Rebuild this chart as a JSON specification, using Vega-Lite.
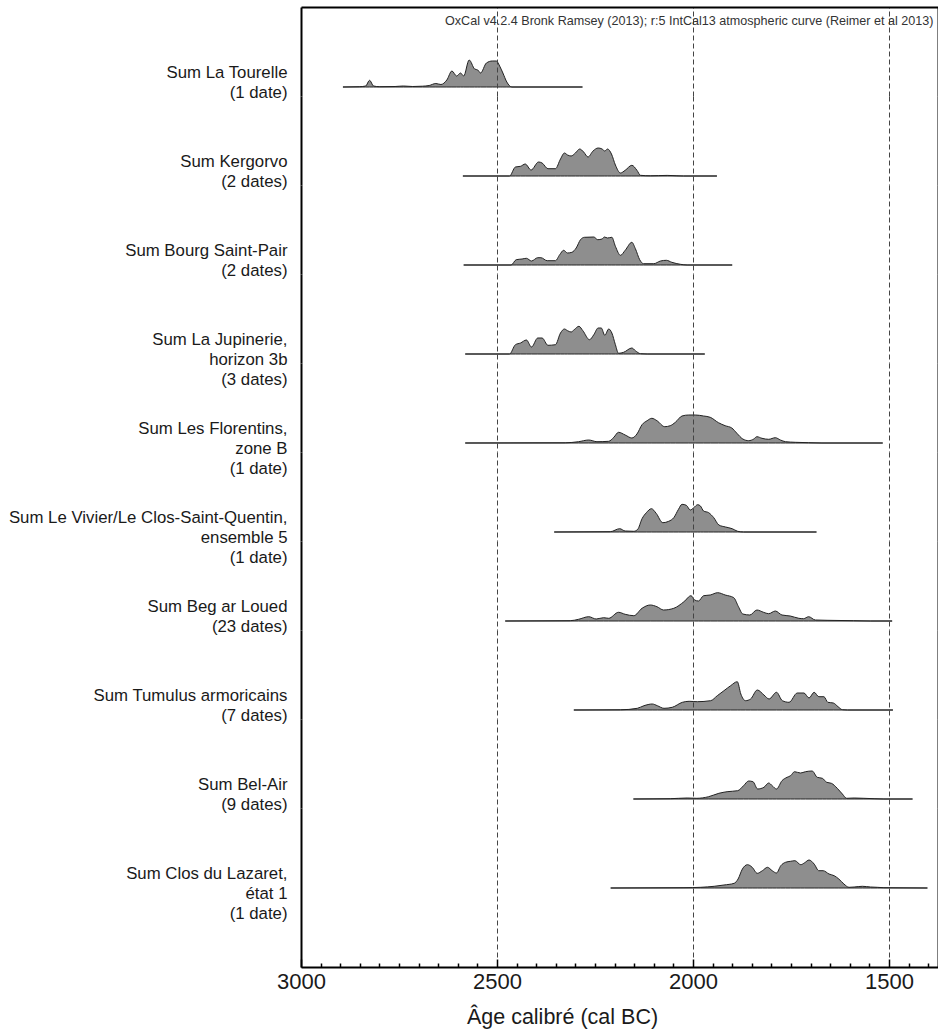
{
  "$schema": "https://vega.github.io/schema/vega-lite/v6.json",
  "background": "white",
  "padding": {"left": 8, "top": 7, "right": 0, "bottom": 5},
  "autosize": {"type": "pad"},
  "bounds": "flush",
  "spacing": 0,
  "config": {
    "view": {"stroke": null},
    "font": "Liberation Sans",
    "axis": {"labelFont": "Liberation Sans", "titleFont": "Liberation Sans"}
  },
  "data": {"values": [
    {"s":1,"year":2893,"p":0},{"s":1,"year":2850,"p":0.3},{"s":1,"year":2835,"p":1},{"s":1,"year":2825,"p":6.7},{"s":1,"year":2815,"p":1},{"s":1,"year":2799,"p":0.3},{"s":1,"year":2760,"p":0.5},{"s":1,"year":2739,"p":1},{"s":1,"year":2715,"p":0.5},{"s":1,"year":2690,"p":0.8},{"s":1,"year":2673,"p":1.5},{"s":1,"year":2656,"p":3.5},{"s":1,"year":2643,"p":2.5},{"s":1,"year":2628,"p":7},{"s":1,"year":2615,"p":16},{"s":1,"year":2603,"p":11},{"s":1,"year":2593,"p":14},{"s":1,"year":2585,"p":11},{"s":1,"year":2571,"p":27},{"s":1,"year":2557,"p":18},{"s":1,"year":2549,"p":17},{"s":1,"year":2542,"p":14},{"s":1,"year":2527,"p":24},{"s":1,"year":2512,"p":26},{"s":1,"year":2502,"p":26},{"s":1,"year":2492,"p":20},{"s":1,"year":2485,"p":14},{"s":1,"year":2475,"p":5},{"s":1,"year":2462,"p":0},{"s":1,"year":2282,"p":0},
    {"s":2,"year":2587,"p":0},{"s":2,"year":2468,"p":0},{"s":2,"year":2453,"p":9},{"s":2,"year":2440,"p":9.7},{"s":2,"year":2428,"p":12},{"s":2,"year":2413,"p":6},{"s":2,"year":2394,"p":14},{"s":2,"year":2385,"p":13},{"s":2,"year":2370,"p":7.3},{"s":2,"year":2351,"p":7.3},{"s":2,"year":2338,"p":17},{"s":2,"year":2328,"p":23},{"s":2,"year":2320,"p":21},{"s":2,"year":2311,"p":20},{"s":2,"year":2300,"p":23},{"s":2,"year":2289,"p":27},{"s":2,"year":2279,"p":24},{"s":2,"year":2268,"p":19},{"s":2,"year":2255,"p":25},{"s":2,"year":2242,"p":28},{"s":2,"year":2232,"p":27},{"s":2,"year":2225,"p":25},{"s":2,"year":2218,"p":27},{"s":2,"year":2208,"p":22},{"s":2,"year":2198,"p":11},{"s":2,"year":2185,"p":3},{"s":2,"year":2173,"p":5.7},{"s":2,"year":2156,"p":10.7},{"s":2,"year":2143,"p":5.7},{"s":2,"year":2134,"p":0.7},{"s":2,"year":2109,"p":0.2},{"s":2,"year":2066,"p":0.6},{"s":2,"year":2041,"p":0.2},{"s":2,"year":2024,"p":0},{"s":2,"year":1939,"p":0},
    {"s":3,"year":2585,"p":0},{"s":3,"year":2464,"p":0},{"s":3,"year":2451,"p":5.3},{"s":3,"year":2436,"p":6},{"s":3,"year":2425,"p":6.7},{"s":3,"year":2412,"p":4},{"s":3,"year":2396,"p":7.3},{"s":3,"year":2388,"p":7.3},{"s":3,"year":2372,"p":4.3},{"s":3,"year":2351,"p":4.3},{"s":3,"year":2340,"p":10.3},{"s":3,"year":2330,"p":14.7},{"s":3,"year":2320,"p":12},{"s":3,"year":2309,"p":12.7},{"s":3,"year":2298,"p":17},{"s":3,"year":2287,"p":25.3},{"s":3,"year":2277,"p":27.7},{"s":3,"year":2253,"p":28},{"s":3,"year":2243,"p":25.3},{"s":3,"year":2232,"p":26},{"s":3,"year":2226,"p":28},{"s":3,"year":2218,"p":27},{"s":3,"year":2207,"p":27.7},{"s":3,"year":2198,"p":18.7},{"s":3,"year":2185,"p":9.7},{"s":3,"year":2173,"p":14.7},{"s":3,"year":2156,"p":22.7},{"s":3,"year":2147,"p":16.3},{"s":3,"year":2136,"p":5.3},{"s":3,"year":2126,"p":1.3},{"s":3,"year":2100,"p":1.3},{"s":3,"year":2083,"p":4},{"s":3,"year":2068,"p":4.7},{"s":3,"year":2054,"p":2.7},{"s":3,"year":2032,"p":0.7},{"s":3,"year":2015,"p":0},{"s":3,"year":1900,"p":0},
    {"s":4,"year":2581,"p":0},{"s":4,"year":2468,"p":0},{"s":4,"year":2453,"p":9.3},{"s":4,"year":2440,"p":11},{"s":4,"year":2425,"p":14},{"s":4,"year":2412,"p":7},{"s":4,"year":2396,"p":16},{"s":4,"year":2385,"p":16},{"s":4,"year":2370,"p":8.7},{"s":4,"year":2351,"p":9.3},{"s":4,"year":2338,"p":21},{"s":4,"year":2328,"p":25},{"s":4,"year":2320,"p":23.3},{"s":4,"year":2311,"p":22},{"s":4,"year":2303,"p":24.3},{"s":4,"year":2291,"p":27.7},{"s":4,"year":2281,"p":23.3},{"s":4,"year":2264,"p":14.3},{"s":4,"year":2253,"p":19.3},{"s":4,"year":2242,"p":26},{"s":4,"year":2234,"p":26},{"s":4,"year":2225,"p":18.7},{"s":4,"year":2215,"p":25},{"s":4,"year":2207,"p":21},{"s":4,"year":2198,"p":9.3},{"s":4,"year":2190,"p":0.7},{"s":4,"year":2177,"p":1.7},{"s":4,"year":2156,"p":6},{"s":4,"year":2147,"p":3.3},{"s":4,"year":2134,"p":0.3},{"s":4,"year":2117,"p":0},{"s":4,"year":1970,"p":0},
    {"s":5,"year":2581,"p":0},{"s":5,"year":2326,"p":0.2},{"s":5,"year":2292,"p":1.3},{"s":5,"year":2266,"p":3},{"s":5,"year":2245,"p":1.3},{"s":5,"year":2215,"p":1.7},{"s":5,"year":2202,"p":5.7},{"s":5,"year":2190,"p":10.7},{"s":5,"year":2173,"p":8},{"s":5,"year":2156,"p":5},{"s":5,"year":2143,"p":9},{"s":5,"year":2130,"p":18.3},{"s":5,"year":2117,"p":22.3},{"s":5,"year":2105,"p":24.7},{"s":5,"year":2092,"p":22.3},{"s":5,"year":2072,"p":16.3},{"s":5,"year":2058,"p":17.3},{"s":5,"year":2045,"p":20.7},{"s":5,"year":2028,"p":27},{"s":5,"year":2011,"p":28},{"s":5,"year":1994,"p":28},{"s":5,"year":1973,"p":27},{"s":5,"year":1956,"p":25.7},{"s":5,"year":1935,"p":20.3},{"s":5,"year":1918,"p":17.3},{"s":5,"year":1901,"p":15},{"s":5,"year":1888,"p":9.7},{"s":5,"year":1873,"p":4},{"s":5,"year":1858,"p":2.3},{"s":5,"year":1845,"p":4},{"s":5,"year":1837,"p":6.3},{"s":5,"year":1824,"p":4.7},{"s":5,"year":1807,"p":3.7},{"s":5,"year":1790,"p":5.3},{"s":5,"year":1777,"p":3},{"s":5,"year":1764,"p":1.3},{"s":5,"year":1739,"p":0.7},{"s":5,"year":1705,"p":0.3},{"s":5,"year":1671,"p":0},{"s":5,"year":1516,"p":0},
    {"s":6,"year":2354,"p":0},{"s":6,"year":2211,"p":0.3},{"s":6,"year":2187,"p":3.3},{"s":6,"year":2173,"p":1},{"s":6,"year":2151,"p":0.7},{"s":6,"year":2141,"p":2.7},{"s":6,"year":2130,"p":13.3},{"s":6,"year":2119,"p":19.3},{"s":6,"year":2106,"p":23.3},{"s":6,"year":2094,"p":18.7},{"s":6,"year":2077,"p":9.3},{"s":6,"year":2062,"p":10.7},{"s":6,"year":2049,"p":14.3},{"s":6,"year":2037,"p":22.7},{"s":6,"year":2028,"p":27.7},{"s":6,"year":2017,"p":26.7},{"s":6,"year":2007,"p":22},{"s":6,"year":1998,"p":24.3},{"s":6,"year":1988,"p":27.3},{"s":6,"year":1981,"p":26},{"s":6,"year":1973,"p":21},{"s":6,"year":1960,"p":19.3},{"s":6,"year":1947,"p":14.3},{"s":6,"year":1934,"p":7},{"s":6,"year":1917,"p":5},{"s":6,"year":1900,"p":3.3},{"s":6,"year":1886,"p":0.7},{"s":6,"year":1871,"p":0},{"s":6,"year":1685,"p":0},
    {"s":7,"year":2479,"p":0},{"s":7,"year":2313,"p":0.3},{"s":7,"year":2292,"p":1.7},{"s":7,"year":2266,"p":4.3},{"s":7,"year":2247,"p":2},{"s":7,"year":2228,"p":3.3},{"s":7,"year":2215,"p":2.7},{"s":7,"year":2190,"p":8.7},{"s":7,"year":2173,"p":6.7},{"s":7,"year":2151,"p":5.3},{"s":7,"year":2130,"p":12.7},{"s":7,"year":2109,"p":16},{"s":7,"year":2092,"p":14.3},{"s":7,"year":2075,"p":11},{"s":7,"year":2049,"p":12.7},{"s":7,"year":2023,"p":19.3},{"s":7,"year":2005,"p":25.3},{"s":7,"year":1996,"p":21},{"s":7,"year":1986,"p":20},{"s":7,"year":1973,"p":25.3},{"s":7,"year":1956,"p":26},{"s":7,"year":1937,"p":28.3},{"s":7,"year":1918,"p":26},{"s":7,"year":1896,"p":23.3},{"s":7,"year":1884,"p":14.3},{"s":7,"year":1873,"p":7},{"s":7,"year":1855,"p":6},{"s":7,"year":1837,"p":11},{"s":7,"year":1820,"p":8.7},{"s":7,"year":1807,"p":7.3},{"s":7,"year":1790,"p":10},{"s":7,"year":1773,"p":6},{"s":7,"year":1752,"p":5},{"s":7,"year":1730,"p":2.7},{"s":7,"year":1718,"p":2.3},{"s":7,"year":1705,"p":4.3},{"s":7,"year":1688,"p":1},{"s":7,"year":1658,"p":0.7},{"s":7,"year":1590,"p":0.3},{"s":7,"year":1548,"p":0},{"s":7,"year":1492,"p":0},
    {"s":8,"year":2304,"p":0},{"s":8,"year":2185,"p":0.2},{"s":8,"year":2142,"p":1.7},{"s":8,"year":2125,"p":4.3},{"s":8,"year":2104,"p":6},{"s":8,"year":2091,"p":4.3},{"s":8,"year":2074,"p":1.7},{"s":8,"year":2053,"p":2.7},{"s":8,"year":2027,"p":7.7},{"s":8,"year":2010,"p":8.7},{"s":8,"year":1989,"p":8.3},{"s":8,"year":1955,"p":9.3},{"s":8,"year":1938,"p":14.3},{"s":8,"year":1921,"p":19.3},{"s":8,"year":1904,"p":24.3},{"s":8,"year":1887,"p":28.3},{"s":8,"year":1878,"p":16},{"s":8,"year":1866,"p":9.3},{"s":8,"year":1853,"p":11},{"s":8,"year":1836,"p":20},{"s":8,"year":1819,"p":15},{"s":8,"year":1806,"p":11},{"s":8,"year":1787,"p":17.7},{"s":8,"year":1772,"p":9.3},{"s":8,"year":1755,"p":7.7},{"s":8,"year":1734,"p":17},{"s":8,"year":1717,"p":17},{"s":8,"year":1704,"p":12},{"s":8,"year":1691,"p":17.7},{"s":8,"year":1679,"p":13.3},{"s":8,"year":1666,"p":13.3},{"s":8,"year":1656,"p":7.7},{"s":8,"year":1642,"p":7},{"s":8,"year":1630,"p":3.3},{"s":8,"year":1619,"p":0.3},{"s":8,"year":1606,"p":0},{"s":8,"year":1490,"p":0},
    {"s":9,"year":2152,"p":0},{"s":9,"year":2058,"p":0.3},{"s":9,"year":2015,"p":1},{"s":9,"year":1990,"p":0.7},{"s":9,"year":1960,"p":2.3},{"s":9,"year":1934,"p":5.7},{"s":9,"year":1913,"p":7.3},{"s":9,"year":1886,"p":8.3},{"s":9,"year":1871,"p":13.3},{"s":9,"year":1858,"p":18},{"s":9,"year":1847,"p":17.3},{"s":9,"year":1835,"p":10},{"s":9,"year":1819,"p":11.7},{"s":9,"year":1807,"p":16},{"s":9,"year":1798,"p":13.3},{"s":9,"year":1787,"p":10},{"s":9,"year":1773,"p":18.3},{"s":9,"year":1760,"p":21.7},{"s":9,"year":1751,"p":23.3},{"s":9,"year":1741,"p":27.3},{"s":9,"year":1726,"p":26},{"s":9,"year":1713,"p":27.3},{"s":9,"year":1696,"p":28},{"s":9,"year":1683,"p":21.7},{"s":9,"year":1670,"p":20.7},{"s":9,"year":1659,"p":16.7},{"s":9,"year":1647,"p":15.7},{"s":9,"year":1632,"p":10.7},{"s":9,"year":1619,"p":5},{"s":9,"year":1608,"p":0.7},{"s":9,"year":1589,"p":1},{"s":9,"year":1564,"p":0.7},{"s":9,"year":1538,"p":0.3},{"s":9,"year":1513,"p":0},{"s":9,"year":1440,"p":0},
    {"s":10,"year":2210,"p":0},{"s":10,"year":2023,"p":0.3},{"s":10,"year":1980,"p":0.7},{"s":10,"year":1946,"p":1.7},{"s":10,"year":1921,"p":3},{"s":10,"year":1895,"p":4.7},{"s":10,"year":1885,"p":9},{"s":10,"year":1874,"p":19},{"s":10,"year":1861,"p":23.3},{"s":10,"year":1849,"p":20.7},{"s":10,"year":1836,"p":14.7},{"s":10,"year":1823,"p":17.3},{"s":10,"year":1810,"p":20.7},{"s":10,"year":1798,"p":17.3},{"s":10,"year":1787,"p":15},{"s":10,"year":1776,"p":22.3},{"s":10,"year":1764,"p":25.7},{"s":10,"year":1751,"p":26.7},{"s":10,"year":1740,"p":27.3},{"s":10,"year":1725,"p":23.3},{"s":10,"year":1715,"p":25.3},{"s":10,"year":1704,"p":28},{"s":10,"year":1691,"p":24},{"s":10,"year":1679,"p":17.3},{"s":10,"year":1668,"p":17.3},{"s":10,"year":1653,"p":14},{"s":10,"year":1640,"p":12.3},{"s":10,"year":1628,"p":9},{"s":10,"year":1615,"p":4},{"s":10,"year":1602,"p":0.7},{"s":10,"year":1589,"p":1},{"s":10,"year":1568,"p":1.7},{"s":10,"year":1547,"p":1},{"s":10,"year":1530,"p":0.7},{"s":10,"year":1513,"p":0.3},{"s":10,"year":1402,"p":0}
  ]},
  "vconcat": [
    {
      "width": 637, "height": 89,
      "transform": [{"filter": "datum.s == 1"}],
      "mark": {"type": "area", "interpolate": "monotone", "fill": "#8e8e8e", "stroke": "#222", "strokeWidth": 1},
      "encoding": {
        "x": {"field": "year", "type": "quantitative", "scale": {"domain": [3000, 1375], "nice": false, "zero": false},
          "axis": {"orient": "top", "values": [3000, 2500, 2000, 1500, 1375], "domain": true, "domainColor": "#000", "domainWidth": 2, "ticks": false, "labels": false, "grid": true, "zindex": 1,
            "gridColor": {"condition": {"test": "datum.value == 3000 || datum.value == 1375", "value": "#000"}, "value": "#444"},
            "gridDash": {"condition": {"test": "datum.value == 3000 || datum.value == 1375", "value": []}, "value": [5, 3]},
            "gridWidth": {"condition": {"test": "datum.value == 3000 || datum.value == 1375", "value": 2}, "value": 1},
            "title": "OxCal v4.2.4 Bronk Ramsey (2013); r:5 IntCal13 atmospheric curve (Reimer et al 2013)",
            "titleFontSize": 12.6, "titleFontWeight": "normal", "titleColor": "#333", "titleX": 632, "titleY": 13, "titleAlign": "right", "titleBaseline": "middle"}},
        "y": {"field": "p", "type": "quantitative", "scale": {"domain": [-9, 80], "nice": false, "zero": false},
          "axis": {"domain": false, "ticks": false, "labels": false, "grid": false, "title": ["Sum La Tourelle", "(1 date)"], "titleAngle": 0, "titleAlign": "right", "titleBaseline": "top", "titleX": -14, "titleY": 57, "titleFontSize": 16.8, "titleFontWeight": "normal", "titleColor": "#1a1a1a", "titleLineHeight": 20}},
        "y2": {"datum": 0}
      }
    },
    {
      "width": 637, "height": 89,
      "transform": [{"filter": "datum.s == 2"}],
      "mark": {"type": "area", "interpolate": "monotone", "fill": "#8e8e8e", "stroke": "#222", "strokeWidth": 1},
      "encoding": {
        "x": {"field": "year", "type": "quantitative", "scale": {"domain": [3000, 1375], "nice": false, "zero": false},
          "axis": {"orient": "bottom", "values": [3000, 2500, 2000, 1500, 1375], "domain": false, "ticks": false, "labels": false, "title": null, "grid": true, "zindex": 1,
            "gridColor": {"condition": {"test": "datum.value == 3000 || datum.value == 1375", "value": "#000"}, "value": "#444"},
            "gridDash": {"condition": {"test": "datum.value == 3000 || datum.value == 1375", "value": []}, "value": [5, 3]},
            "gridWidth": {"condition": {"test": "datum.value == 3000 || datum.value == 1375", "value": 2}, "value": 1}}},
        "y": {"field": "p", "type": "quantitative", "scale": {"domain": [-9, 80], "nice": false, "zero": false},
          "axis": {"domain": false, "ticks": false, "labels": false, "grid": false, "title": ["Sum Kergorvo", "(2 dates)"], "titleAngle": 0, "titleAlign": "right", "titleBaseline": "top", "titleX": -14, "titleY": 57, "titleFontSize": 16.8, "titleFontWeight": "normal", "titleColor": "#1a1a1a", "titleLineHeight": 20}},
        "y2": {"datum": 0}
      }
    },
    {
      "width": 637, "height": 89,
      "transform": [{"filter": "datum.s == 3"}],
      "mark": {"type": "area", "interpolate": "monotone", "fill": "#8e8e8e", "stroke": "#222", "strokeWidth": 1},
      "encoding": {
        "x": {"field": "year", "type": "quantitative", "scale": {"domain": [3000, 1375], "nice": false, "zero": false},
          "axis": {"orient": "bottom", "values": [3000, 2500, 2000, 1500, 1375], "domain": false, "ticks": false, "labels": false, "title": null, "grid": true, "zindex": 1,
            "gridColor": {"condition": {"test": "datum.value == 3000 || datum.value == 1375", "value": "#000"}, "value": "#444"},
            "gridDash": {"condition": {"test": "datum.value == 3000 || datum.value == 1375", "value": []}, "value": [5, 3]},
            "gridWidth": {"condition": {"test": "datum.value == 3000 || datum.value == 1375", "value": 2}, "value": 1}}},
        "y": {"field": "p", "type": "quantitative", "scale": {"domain": [-9, 80], "nice": false, "zero": false},
          "axis": {"domain": false, "ticks": false, "labels": false, "grid": false, "title": ["Sum Bourg Saint-Pair", "(2 dates)"], "titleAngle": 0, "titleAlign": "right", "titleBaseline": "top", "titleX": -14, "titleY": 57, "titleFontSize": 16.8, "titleFontWeight": "normal", "titleColor": "#1a1a1a", "titleLineHeight": 20}},
        "y2": {"datum": 0}
      }
    },
    {
      "width": 637, "height": 89,
      "transform": [{"filter": "datum.s == 4"}],
      "mark": {"type": "area", "interpolate": "monotone", "fill": "#8e8e8e", "stroke": "#222", "strokeWidth": 1},
      "encoding": {
        "x": {"field": "year", "type": "quantitative", "scale": {"domain": [3000, 1375], "nice": false, "zero": false},
          "axis": {"orient": "bottom", "values": [3000, 2500, 2000, 1500, 1375], "domain": false, "ticks": false, "labels": false, "title": null, "grid": true, "zindex": 1,
            "gridColor": {"condition": {"test": "datum.value == 3000 || datum.value == 1375", "value": "#000"}, "value": "#444"},
            "gridDash": {"condition": {"test": "datum.value == 3000 || datum.value == 1375", "value": []}, "value": [5, 3]},
            "gridWidth": {"condition": {"test": "datum.value == 3000 || datum.value == 1375", "value": 2}, "value": 1}}},
        "y": {"field": "p", "type": "quantitative", "scale": {"domain": [-9, 80], "nice": false, "zero": false},
          "axis": {"domain": false, "ticks": false, "labels": false, "grid": false, "title": ["Sum La Jupinerie,", "horizon 3b", "(3 dates)"], "titleAngle": 0, "titleAlign": "right", "titleBaseline": "top", "titleX": -14, "titleY": 57, "titleFontSize": 16.8, "titleFontWeight": "normal", "titleColor": "#1a1a1a", "titleLineHeight": 20}},
        "y2": {"datum": 0}
      }
    },
    {
      "width": 637, "height": 89,
      "transform": [{"filter": "datum.s == 5"}],
      "mark": {"type": "area", "interpolate": "monotone", "fill": "#8e8e8e", "stroke": "#222", "strokeWidth": 1},
      "encoding": {
        "x": {"field": "year", "type": "quantitative", "scale": {"domain": [3000, 1375], "nice": false, "zero": false},
          "axis": {"orient": "bottom", "values": [3000, 2500, 2000, 1500, 1375], "domain": false, "ticks": false, "labels": false, "title": null, "grid": true, "zindex": 1,
            "gridColor": {"condition": {"test": "datum.value == 3000 || datum.value == 1375", "value": "#000"}, "value": "#444"},
            "gridDash": {"condition": {"test": "datum.value == 3000 || datum.value == 1375", "value": []}, "value": [5, 3]},
            "gridWidth": {"condition": {"test": "datum.value == 3000 || datum.value == 1375", "value": 2}, "value": 1}}},
        "y": {"field": "p", "type": "quantitative", "scale": {"domain": [-9, 80], "nice": false, "zero": false},
          "axis": {"domain": false, "ticks": false, "labels": false, "grid": false, "title": ["Sum Les Florentins,", "zone B", "(1 date)"], "titleAngle": 0, "titleAlign": "right", "titleBaseline": "top", "titleX": -14, "titleY": 57, "titleFontSize": 16.8, "titleFontWeight": "normal", "titleColor": "#1a1a1a", "titleLineHeight": 20}},
        "y2": {"datum": 0}
      }
    },
    {
      "width": 637, "height": 89,
      "transform": [{"filter": "datum.s == 6"}],
      "mark": {"type": "area", "interpolate": "monotone", "fill": "#8e8e8e", "stroke": "#222", "strokeWidth": 1},
      "encoding": {
        "x": {"field": "year", "type": "quantitative", "scale": {"domain": [3000, 1375], "nice": false, "zero": false},
          "axis": {"orient": "bottom", "values": [3000, 2500, 2000, 1500, 1375], "domain": false, "ticks": false, "labels": false, "title": null, "grid": true, "zindex": 1,
            "gridColor": {"condition": {"test": "datum.value == 3000 || datum.value == 1375", "value": "#000"}, "value": "#444"},
            "gridDash": {"condition": {"test": "datum.value == 3000 || datum.value == 1375", "value": []}, "value": [5, 3]},
            "gridWidth": {"condition": {"test": "datum.value == 3000 || datum.value == 1375", "value": 2}, "value": 1}}},
        "y": {"field": "p", "type": "quantitative", "scale": {"domain": [-9, 80], "nice": false, "zero": false},
          "axis": {"domain": false, "ticks": false, "labels": false, "grid": false, "title": ["Sum Le Vivier/Le Clos-Saint-Quentin,", "ensemble 5", "(1 date)"], "titleAngle": 0, "titleAlign": "right", "titleBaseline": "top", "titleX": -14, "titleY": 57, "titleFontSize": 16.8, "titleFontWeight": "normal", "titleColor": "#1a1a1a", "titleLineHeight": 20}},
        "y2": {"datum": 0}
      }
    },
    {
      "width": 637, "height": 89,
      "transform": [{"filter": "datum.s == 7"}],
      "mark": {"type": "area", "interpolate": "monotone", "fill": "#8e8e8e", "stroke": "#222", "strokeWidth": 1},
      "encoding": {
        "x": {"field": "year", "type": "quantitative", "scale": {"domain": [3000, 1375], "nice": false, "zero": false},
          "axis": {"orient": "bottom", "values": [3000, 2500, 2000, 1500, 1375], "domain": false, "ticks": false, "labels": false, "title": null, "grid": true, "zindex": 1,
            "gridColor": {"condition": {"test": "datum.value == 3000 || datum.value == 1375", "value": "#000"}, "value": "#444"},
            "gridDash": {"condition": {"test": "datum.value == 3000 || datum.value == 1375", "value": []}, "value": [5, 3]},
            "gridWidth": {"condition": {"test": "datum.value == 3000 || datum.value == 1375", "value": 2}, "value": 1}}},
        "y": {"field": "p", "type": "quantitative", "scale": {"domain": [-9, 80], "nice": false, "zero": false},
          "axis": {"domain": false, "ticks": false, "labels": false, "grid": false, "title": ["Sum Beg ar Loued", "(23 dates)"], "titleAngle": 0, "titleAlign": "right", "titleBaseline": "top", "titleX": -14, "titleY": 57, "titleFontSize": 16.8, "titleFontWeight": "normal", "titleColor": "#1a1a1a", "titleLineHeight": 20}},
        "y2": {"datum": 0}
      }
    },
    {
      "width": 637, "height": 89,
      "transform": [{"filter": "datum.s == 8"}],
      "mark": {"type": "area", "interpolate": "monotone", "fill": "#8e8e8e", "stroke": "#222", "strokeWidth": 1},
      "encoding": {
        "x": {"field": "year", "type": "quantitative", "scale": {"domain": [3000, 1375], "nice": false, "zero": false},
          "axis": {"orient": "bottom", "values": [3000, 2500, 2000, 1500, 1375], "domain": false, "ticks": false, "labels": false, "title": null, "grid": true, "zindex": 1,
            "gridColor": {"condition": {"test": "datum.value == 3000 || datum.value == 1375", "value": "#000"}, "value": "#444"},
            "gridDash": {"condition": {"test": "datum.value == 3000 || datum.value == 1375", "value": []}, "value": [5, 3]},
            "gridWidth": {"condition": {"test": "datum.value == 3000 || datum.value == 1375", "value": 2}, "value": 1}}},
        "y": {"field": "p", "type": "quantitative", "scale": {"domain": [-9, 80], "nice": false, "zero": false},
          "axis": {"domain": false, "ticks": false, "labels": false, "grid": false, "title": ["Sum Tumulus armoricains", "(7 dates)"], "titleAngle": 0, "titleAlign": "right", "titleBaseline": "top", "titleX": -14, "titleY": 57, "titleFontSize": 16.8, "titleFontWeight": "normal", "titleColor": "#1a1a1a", "titleLineHeight": 20}},
        "y2": {"datum": 0}
      }
    },
    {
      "width": 637, "height": 89,
      "transform": [{"filter": "datum.s == 9"}],
      "mark": {"type": "area", "interpolate": "monotone", "fill": "#8e8e8e", "stroke": "#222", "strokeWidth": 1},
      "encoding": {
        "x": {"field": "year", "type": "quantitative", "scale": {"domain": [3000, 1375], "nice": false, "zero": false},
          "axis": {"orient": "bottom", "values": [3000, 2500, 2000, 1500, 1375], "domain": false, "ticks": false, "labels": false, "title": null, "grid": true, "zindex": 1,
            "gridColor": {"condition": {"test": "datum.value == 3000 || datum.value == 1375", "value": "#000"}, "value": "#444"},
            "gridDash": {"condition": {"test": "datum.value == 3000 || datum.value == 1375", "value": []}, "value": [5, 3]},
            "gridWidth": {"condition": {"test": "datum.value == 3000 || datum.value == 1375", "value": 2}, "value": 1}}},
        "y": {"field": "p", "type": "quantitative", "scale": {"domain": [-9, 80], "nice": false, "zero": false},
          "axis": {"domain": false, "ticks": false, "labels": false, "grid": false, "title": ["Sum Bel-Air", "(9 dates)"], "titleAngle": 0, "titleAlign": "right", "titleBaseline": "top", "titleX": -14, "titleY": 57, "titleFontSize": 16.8, "titleFontWeight": "normal", "titleColor": "#1a1a1a", "titleLineHeight": 20}},
        "y2": {"datum": 0}
      }
    },
    {
      "width": 637, "height": 159,
      "transform": [{"filter": "datum.s == 10"}],
      "mark": {"type": "area", "interpolate": "monotone", "fill": "#8e8e8e", "stroke": "#222", "strokeWidth": 1},
      "encoding": {
        "x": {"field": "year", "type": "quantitative", "scale": {"domain": [3000, 1375], "nice": false, "zero": false},
          "axis": {"orient": "bottom", "zindex": 1,
            "values": [3000, 2950, 2900, 2850, 2800, 2750, 2700, 2650, 2600, 2550, 2500, 2450, 2400, 2350, 2300, 2250, 2200, 2150, 2100, 2050, 2000, 1950, 1900, 1850, 1800, 1750, 1700, 1650, 1600, 1550, 1500, 1450, 1400, 1375],
            "format": "d",
            "labelExpr": "datum.value % 500 == 0 ? datum.label : ''",
            "labelFlush": false, "labelOverlap": false, "labelBound": false,
            "labelFontSize": 22, "labelColor": "#1a1a1a", "labelPadding": 12,
            "domain": true, "domainColor": "#000", "domainWidth": 2,
            "ticks": true, "tickColor": "#000", "tickWidth": 1.5,
            "tickSize": {"condition": {"test": "datum.value % 500 == 0", "value": -8}, "value": -4},
            "tickOpacity": {"condition": {"test": "datum.value == 1375", "value": 0}, "value": 1},
            "grid": true,
            "gridOpacity": {"condition": {"test": "datum.value % 500 == 0 || datum.value == 1375", "value": 1}, "value": 0},
            "gridColor": {"condition": {"test": "datum.value == 3000 || datum.value == 1375", "value": "#000"}, "value": "#444"},
            "gridDash": {"condition": {"test": "datum.value == 3000 || datum.value == 1375", "value": []}, "value": [5, 3]},
            "gridWidth": {"condition": {"test": "datum.value == 3000 || datum.value == 1375", "value": 2}, "value": 1},
            "title": "Âge calibré (cal BC)", "titleFontSize": 21.5, "titleFontWeight": "normal", "titleColor": "#1a1a1a",
            "titleX": 261, "titleY": 50, "titleAlign": "center", "titleBaseline": "middle"}},
        "y": {"field": "p", "type": "quantitative", "scale": {"domain": [-79, 80], "nice": false, "zero": false},
          "axis": {"domain": false, "ticks": false, "labels": false, "grid": false, "title": ["Sum Clos du Lazaret,", "état 1", "(1 date)"], "titleAngle": 0, "titleAlign": "right", "titleBaseline": "top", "titleX": -14, "titleY": 57, "titleFontSize": 16.8, "titleFontWeight": "normal", "titleColor": "#1a1a1a", "titleLineHeight": 20}},
        "y2": {"datum": 0}
      }
    }
  ]
}
